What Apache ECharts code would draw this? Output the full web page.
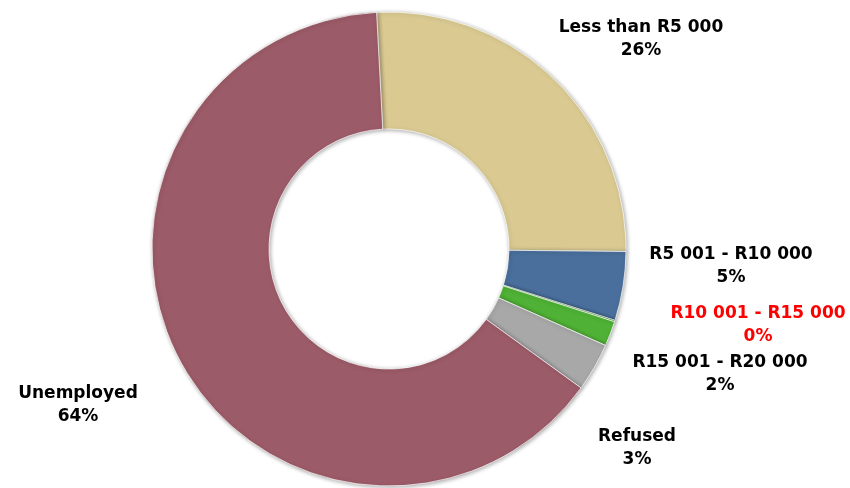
<!DOCTYPE html>
<html>
<head>
<meta charset="utf-8">
<script src="https://cdn.jsdelivr.net/npm/echarts@6/dist/echarts.min.js"></script>
<style>
  html, body { margin: 0; padding: 0; background: #fff; }
  #chart { width: 850px; height: 488px; }
</style>
</head>
<body>
<div id="chart"></div>
<script>
// categories and values (percent of respondents)
var categories = ['Less than R5 000', 'R5 001 - R10 000', 'R10 001 - R15 000', 'R15 001 - R20 000', 'Refused', 'Unemployed'];
var values = [26.0, 4.7, 0.1, 1.7, 3.3, 64.2];
var sliceColors = ['#DACA92', '#4A6F9C', '#4FB135', '#4FB135', '#A8A8A8', '#9C5B68'];
// label anchor spots (centre of each text block)
var labelSpots = [[641, 39], [731, 266], [758, 325], [720, 374], [637, 448], [78, 405]];

var chart = echarts.init(document.getElementById('chart'));

var pieData = categories.map(function (name, i) {
  return {
    name: name,
    value: values[i],
    itemStyle: { color: sliceColors[i] },
    label: { color: i === 2 ? '#FF0000' : '#000000' },
  };
});

chart.setOption({
  animation: false,
  series: [
    {
      type: 'pie',
      center: [389, 249],
      radius: [120, 237],
      startAngle: 93,
      clockwise: true,
      avoidLabelOverlap: false,
      data: pieData,
      itemStyle: {
        borderColor: 'rgba(255,255,255,0.7)',
        borderWidth: 1,
        shadowBlur: 4,
        shadowColor: 'rgba(0,0,0,0.35)',
        shadowOffsetX: 1,
        shadowOffsetY: 1,
      },
      label: {
        show: true,
        position: 'outside',
        fontFamily: 'DejaVu Sans',
        fontWeight: 'bold',
        fontSize: 17,
        lineHeight: 23,
        align: 'center',
        formatter: function (p) {
          return p.name + '\n' + Math.round(p.percent) + '%';
        },
      },
      labelLine: { show: false },
      labelLayout: function (params) {
        var s = labelSpots[params.dataIndex];
        return {
          x: s[0],
          y: s[1],
          align: 'center',
          verticalAlign: 'middle',
        };
      },
    },
  ],
});
</script>
</body>
</html>
